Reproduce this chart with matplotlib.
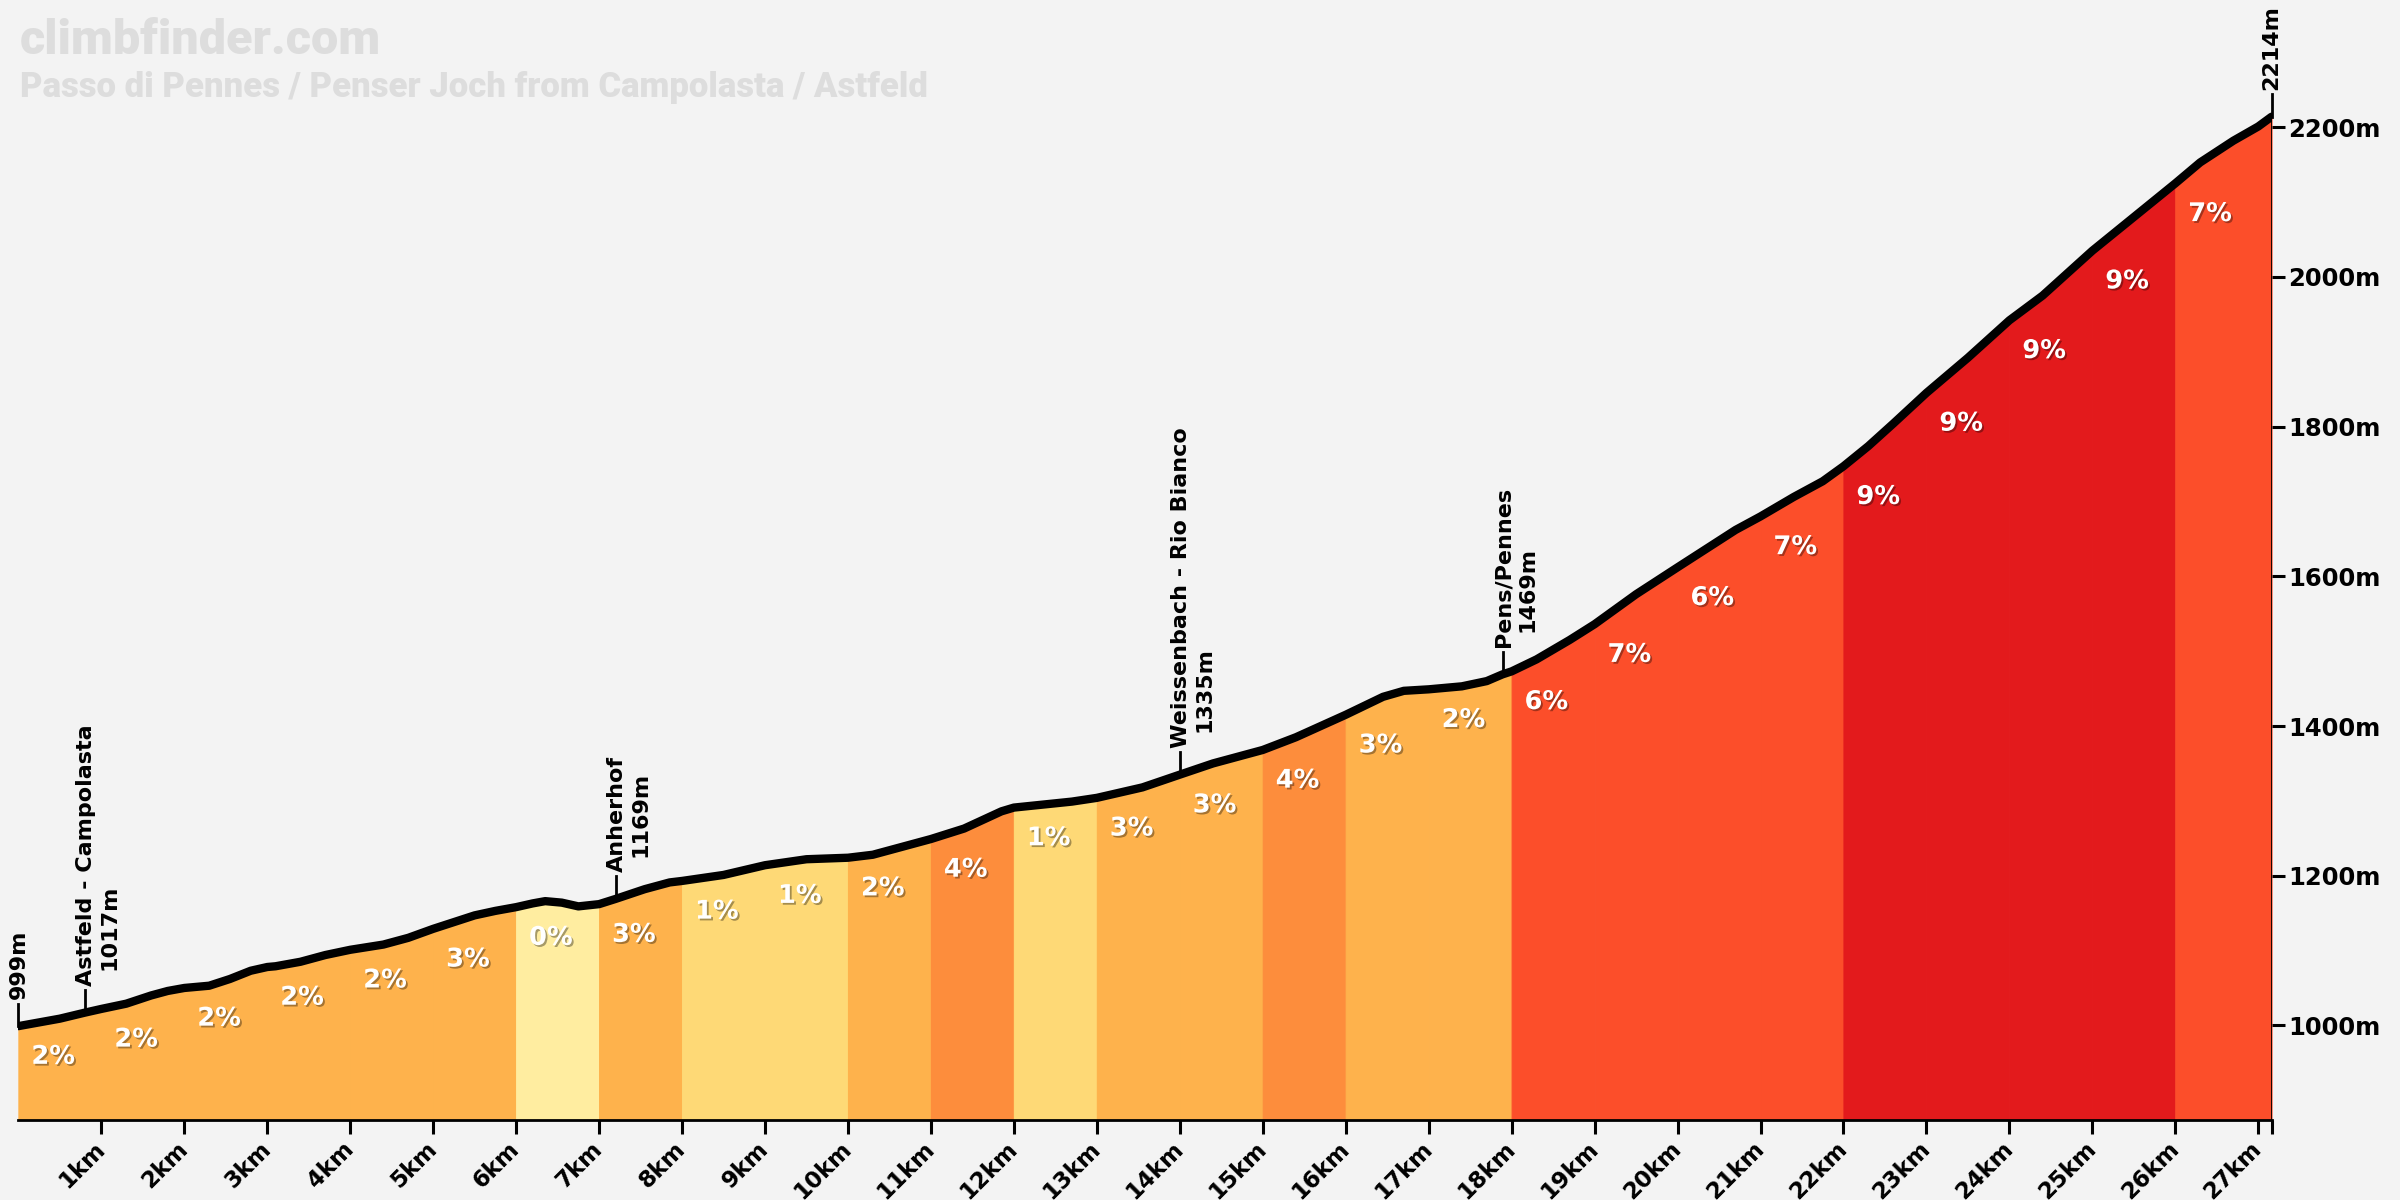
import matplotlib
matplotlib.use("Agg")
import matplotlib.pyplot as plt
import matplotlib.patheffects as pe
import numpy as np

# elevation profile (km, m)
dist_km = [0, 0.5, 0.8, 1, 1.3, 1.6, 1.8, 2, 2.3, 2.55, 2.8, 3, 3.1, 3.4, 3.7, 4, 4.4, 4.7, 5, 5.5, 5.75,
           6, 6.2, 6.35, 6.55, 6.75, 7, 7.2, 7.55, 7.85, 8, 8.5, 9, 9.5, 10, 10.3, 11, 11.4, 11.85, 12, 12.7,
           13, 13.55, 14, 14.4, 15, 15.4, 16, 16.45, 16.7, 17, 17.4, 17.7, 17.89, 18, 18.3, 18.7, 19,
           19.5, 20, 20.35, 20.7, 21, 21.4, 21.75, 22, 22.3, 22.6, 23, 23.5, 24, 24.4, 25, 25.5, 26,
           26.3, 26.7, 27, 27.16]
elev_m = [999, 1009, 1017, 1022, 1029, 1040, 1046, 1050, 1053, 1062, 1073, 1078, 1079, 1085, 1094, 1101,
          1108, 1117, 1129, 1147, 1153, 1158, 1163, 1166, 1164, 1159, 1162, 1169, 1182, 1191, 1193, 1201, 1214,
          1222, 1224, 1228, 1249, 1263, 1286, 1291, 1299, 1304, 1318, 1335, 1350, 1368, 1385, 1415, 1439,
          1447, 1449, 1453, 1460, 1469, 1473, 1489, 1515, 1536, 1576, 1612, 1637, 1662, 1680, 1706, 1727,
          1747, 1774, 1804, 1845, 1892, 1942, 1975, 2035, 2080, 2125, 2153, 2182, 2201, 2214]

# gradient per kilometre
seg_start = list(range(0, 27))
seg_grade = [2, 2, 2, 2, 2, 3, 0, 3, 1, 1, 2, 4, 1, 3, 3, 4, 3, 2, 6, 7, 6, 7, 9, 9, 9, 9, 7]
total_km = 27.16

place_names = ["Astfeld - Campolasta", "Anherhof", "Weissenbach - Rio Bianco", "Pens/Pennes"]
place_km = [0.8, 7.2, 14.0, 17.89]
place_elev = [1017, 1169, 1335, 1469]

xtick_km = list(range(1, 28))
ytick_m = [1000, 1200, 1400, 1600, 1800, 2000, 2200]

site = "climbfinder.com"
title = "Passo di Pennes / Penser Joch from Campolasta / Astfeld"

BG = "#f3f3f3"
Y_LO, Y_HI = 873, 2370


def grade_colour(g):
    if g <= 0:
        return "#ffeda0"
    if g < 2:
        return "#fed976"
    if g < 4:
        return "#feb24c"
    if g < 6:
        return "#fd8d3c"
    if g < 8:
        return "#fc4e2a"
    if g < 10:
        return "#e31a1c"
    return "#bd0026"


plt.rcParams['font.family'] = ['DejaVu Sans']

fig = plt.figure(figsize=(24, 12), dpi=100, facecolor=BG)
ax = fig.add_axes([0.00767, 0.0663, 0.9388, 0.9337])
ax.set_facecolor(BG)
ax.set_xlim(0, total_km)
ax.set_ylim(Y_LO, Y_HI)

d = np.array(dist_km)
z = np.array(elev_m)
seg_end = seg_start[1:] + [total_km]

shadow = [pe.SimplePatchShadow(offset=(1.3, -1.3), shadow_rgbFace='k', alpha=0.35), pe.Normal()]

for s, e, g in zip(seg_start, seg_end, seg_grade):
    m = (d >= s - 1e-9) & (d <= e + 1e-9)
    c = grade_colour(g)
    ax.fill_between(d[m], Y_LO, z[m], color=c, lw=0.8, edgecolor=c, zorder=1)
    z0 = np.interp(s, d, z)
    ax.text(s + 0.42, z0 - 41, f"{g}%", color='white', fontsize=18.5, fontweight='bold',
            ha='center', va='center', zorder=3, path_effects=shadow)

ax.plot(d, z, color='black', lw=6, solid_capstyle='round', solid_joinstyle='round', zorder=5)
ax.plot([total_km, total_km], [Y_LO, z[-1]], color='black', lw=2, zorder=4)

# place markers
marks = [(0, None, elev_m[0])] + list(zip(place_km, place_names, place_elev)) + [(total_km, None, elev_m[-1])]
for x, name, h in marks:
    ax.plot([x, x], [h, h + 30], color='black', lw=2, zorder=4, clip_on=False)
    if name is None:
        ax.annotate(f"{h}m", (x, h + 36), xytext=(0, 0), textcoords='offset points', rotation=90,
                    ha='center', va='bottom', fontsize=16, fontweight='bold', annotation_clip=False)
    else:
        ax.annotate(name, (x, h + 36), xytext=(1, 0), textcoords='offset points', rotation=90,
                    ha='center', va='bottom', fontsize=16, fontweight='bold')
        ax.annotate(f"{h}m", (x, h + 36), xytext=(18, 11), textcoords='offset points', rotation=90,
                    ha='center', va='bottom', fontsize=16, fontweight='bold')

for side in ['top', 'left', 'right']:
    ax.spines[side].set_visible(False)
ax.spines['bottom'].set_linewidth(2)
ax.spines['bottom'].set_zorder(6)

ax.set_xticks(xtick_km)
ax.set_xticklabels([f"{k}km" for k in xtick_km])
ax.set_xticks([total_km], minor=True)
ax.tick_params(axis='x', which='both', direction='out', length=10, width=2.2, pad=8, labelsize=16.5)
plt.setp(ax.get_xticklabels(), rotation=45, ha='right', va='center', rotation_mode='anchor',
         fontweight='bold')

ax.yaxis.tick_right()
ax.set_yticks(ytick_m)
ax.set_yticklabels([f"{v}m" for v in ytick_m])
ax.tick_params(axis='y', direction='out', length=9, width=2.2, pad=3, labelsize=17.5)
plt.setp(ax.get_yticklabels(), fontweight='bold')

title_font = ['Roboto', 'DejaVu Sans']
fig.text(0.0083, 0.985, site, color='#dddddd', fontsize=35, fontweight='black', family=title_font,
         va='top', ha='left')
fig.text(0.0083, 0.941, title, color='#dddddd', fontsize=25, fontweight='black', family=title_font,
         va='top', ha='left')

fig.savefig("out.png", dpi=100, facecolor=BG)
